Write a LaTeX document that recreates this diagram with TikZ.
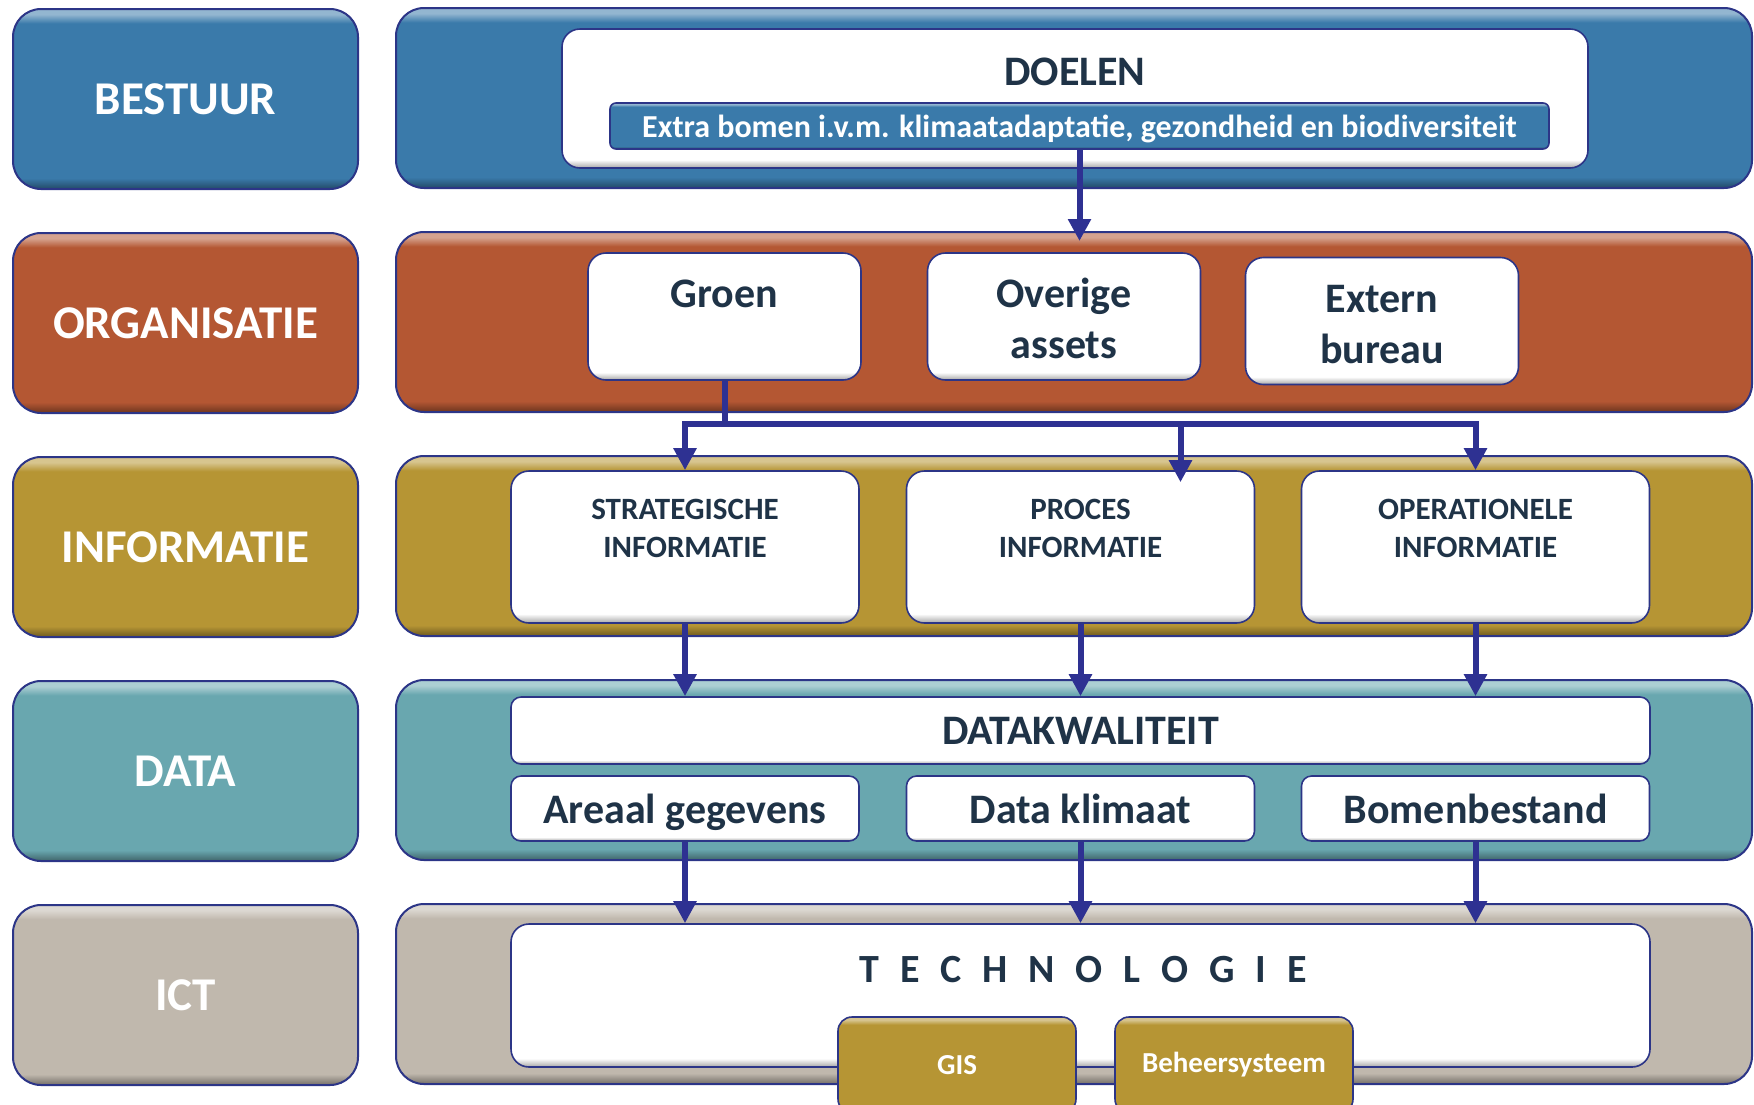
\documentclass[tikz,border=0pt]{standalone}
\usepackage{fontspec}
\setmainfont{Carlito}
\usetikzlibrary{arrows.meta,positioning}

\definecolor{bestuurblue}{HTML}{3A7AAA}
\definecolor{orgred}{HTML}{B45733}
\definecolor{infogold}{HTML}{B69534}
\definecolor{datateal}{HTML}{69A7AF}
\definecolor{icttaupe}{HTML}{C0B8AD}
\definecolor{rimblue}{HTML}{2C3587}
\definecolor{arrowblue}{HTML}{2E3192}
\definecolor{inktext}{HTML}{1F3347}

\colorlet{bvtop}{white}
\colorlet{bvmid}{white}
\colorlet{bvbot}{gray}
\pgfdeclareverticalshading[bvtop,bvmid,bvbot]{bevelshade}{100bp}{color(0bp)=(bvbot); color(25bp)=(bvbot); color(28bp)=(bvmid); color(71bp)=(bvmid); color(73.5bp)=(bvtop); color(75bp)=(bvtop); color(100bp)=(bvtop)}

\tikzset{
  bevelfill/.style={shade, shading=bevelshade, /utils/exec={\colorlet{bvmid}{#1}\colorlet{bvtop}{#1!55!white}\colorlet{bvbot}{#1!60!black}}},
  layer/.style={rectangle, rounded corners=14pt, draw=rimblue, line width=1pt, bevelfill=#1, minimum height=90pt},
  tag/.style={layer=#1, minimum width=172.5pt, text=white, font=\fontsize{23.5}{28}\selectfont\bfseries},
  band/.style={layer=#1, minimum width=678pt},
  card/.style={rectangle, rounded corners=9pt, draw=rimblue, line width=0.8pt, shade, shading=bevelshade,
    /utils/exec={\colorlet{bvmid}{white}\colorlet{bvtop}{white}\colorlet{bvbot}{black!35}},
    text=inktext, align=center, inner sep=0pt, font=\fontsize{21}{25.7}\selectfont\bfseries},
  orgcard/.style={card, minimum width=136.5pt, minimum height=63.5pt, text height=46.4pt, text depth=4pt},
  infocard/.style={card, minimum width=174pt, minimum height=76pt, text height=14pt, text depth=4pt,
    font=\fontsize{15.5}{19}\selectfont\bfseries},
  datacard/.style={card, rounded corners=5pt, minimum width=174pt, minimum height=32.5pt, text height=18.5pt, text depth=4pt},
  strip/.style={rectangle, rounded corners=3pt, draw=rimblue, line width=0.8pt, bevelfill=bestuurblue, inner sep=0pt,
    minimum width=469.5pt, minimum height=23pt, text height=11pt, text depth=0pt,
    text=white, font=\fontsize{16}{19}\selectfont\bfseries},
  toolcard/.style={rectangle, rounded corners=7pt, draw=rimblue, line width=0.8pt, bevelfill=infogold, inner sep=0pt,
    minimum width=119pt, minimum height=48pt, text=white, font=\fontsize{14.5}{17}\selectfont\bfseries},
  link/.style={draw=arrowblue, line width=3pt},
  flow/.style={link, -{Triangle[length=11pt,width=11pt]}}
}

\begin{document}
\begin{tikzpicture}[x=0.5pt, y=-0.5pt]
  \useasboundingbox (0,0) rectangle (1754,1104);

  % layers on the left
  \node[tag=bestuurblue] (bestuur) at (185.5,99) {BESTUUR};
  \node[tag=orgred] (organisatie) at (185.5,323) {ORGANISATIE};
  \node[tag=infogold] (informatie) at (185.5,547) {INFORMATIE};
  \node[tag=datateal] (data) at (185.5,771) {DATA};
  \node[tag=icttaupe] (ict) at (185.5,995) {ICT};

  % bands
  \node[band=bestuurblue] (bestuurband) at (1074,98) {};
  \node[band=orgred] (organisatieband) at (1074,322) {};
  \node[band=infogold] (informatieband) at (1074,546) {};
  \node[band=datateal] (databand) at (1074,770) {};
  \node[band=icttaupe] (ictband) at (1074,994) {};

  % bestuur
  \node[card, minimum width=513pt, minimum height=69.5pt] (doelen) at (1075,98.5) {};
  \node[text=inktext, font=\fontsize{21}{25.7}\selectfont\bfseries] (doelentitel) at (1075,72) {DOELEN};
  \node[strip] (doel) at (1079.5,126) {Extra bomen i.v.m. klimaatadaptatie, gezondheid en biodiversiteit};

  % organisatie
  \node[orgcard, text height=15pt, text depth=24pt] (groen) at (724.5,316.5) {Groen};
  \node[orgcard] (overige) at (1064,316.5) {Overige\\assets};
  \node[orgcard] (extern) at (1382,321) {Extern\\bureau};

  % informatie
  \node[infocard] (strategisch) at (685,547) {STRATEGISCHE\\INFORMATIE};
  \node[infocard] (proces) at (1080.5,547) {PROCES\\INFORMATIE};
  \node[infocard] (operationeel) at (1475.5,547) {OPERATIONELE\\INFORMATIE};

  % data
  \node[card, rounded corners=5pt, minimum width=569.5pt, minimum height=33.5pt] (kwaliteit) at (1080.5,730.5) {DATAKWALITEIT};
  \node[datacard] (areaal) at (685,808.5) {Areaal gegevens};
  \node[datacard] (klimaat) at (1080.5,808.5) {Data klimaat};
  \node[datacard] (bomen) at (1475.5,808.5) {Bomenbestand};

  % ict
  \node[card, minimum width=569.5pt, minimum height=71.5pt] (technologie) at (1080.5,995.5) {};
  \node[text=inktext, font=\fontsize{20}{24}\selectfont\bfseries\addfontfeature{LetterSpace=52.5}] (techtitel) at (1083,970) {TECHNOLOGIE};
  \node[toolcard] (gis) at (957,1065) {GIS};
  \node[toolcard] (beheer) at (1234,1065) {Beheersysteem};

  % arrows
  \draw[flow] (doel.south) -- ([yshift=-5pt]doel.south |- organisatieband.north);
  \coordinate (split) at (groen.south |- 0,424);
  \draw[link] (groen.south) -- (split);
  \draw[flow] (split) -| (strategisch.north);
  \draw[flow] (split) -| (operationeel.north);
  \draw[flow] ([xshift=50pt]proces.north |- split) -- ([xshift=50pt,yshift=-6pt]proces.north);
  \foreach \src in {strategisch, proces, operationeel}
    \draw[flow] (\src.south) -- (\src.south |- kwaliteit.north);
  \foreach \src in {areaal, klimaat, bomen}
    \draw[flow] (\src.south) -- (\src.south |- technologie.north);
\end{tikzpicture}
\end{document}
